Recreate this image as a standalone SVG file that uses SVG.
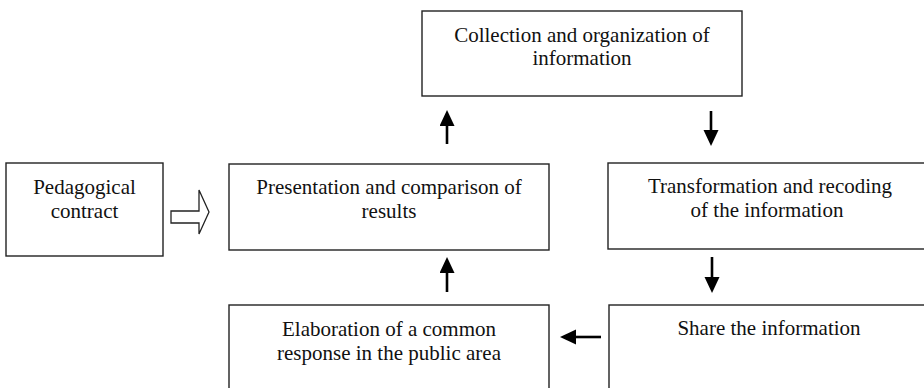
<svg xmlns="http://www.w3.org/2000/svg" width="924" height="388" viewBox="0 0 924 388">
<style>
.box{fill:#fff;stroke:#222;stroke-width:1.4}
.t{font-family:"Liberation Serif","Times New Roman",serif;font-size:21px;fill:#111;text-anchor:middle}
.c{stroke:#000;stroke-width:2.6;fill:none}
</style>
<defs>
<marker id="ah" markerUnits="userSpaceOnUse" markerWidth="17" markerHeight="16" refX="0" refY="7.5" orient="auto" viewBox="0 0 17 16">
<path d="M0,0 L16,7.5 L0,15 z" fill="#000"/>
</marker>
</defs>
<rect width="924" height="388" fill="#fff"/>
<g id="pedagogical">
<rect class="box" x="6" y="163" width="157" height="93"/>
<text class="t" x="84.5" y="194">Pedagogical</text>
<text class="t" x="84.5" y="218">contract</text>
</g>
<g id="collection">
<rect class="box" x="422" y="11" width="320" height="85"/>
<text class="t" x="582" y="42">Collection and organization of</text>
<text class="t" x="582" y="65">information</text>
</g>
<g id="presentation">
<rect class="box" x="229" y="164" width="320" height="86"/>
<text class="t" x="389" y="194">Presentation and comparison of</text>
<text class="t" x="389" y="218">results</text>
</g>
<g id="transformation">
<rect class="box" x="608" y="163" width="326" height="86"/>
<text class="t" x="770" y="193">Transformation and recoding</text>
<text class="t" x="767" y="217">of the information</text>
</g>
<g id="elaboration">
<rect class="box" x="229" y="305" width="320" height="90"/>
<text class="t" x="389" y="336">Elaboration of a common</text>
<text class="t" x="389" y="360">response in the public area</text>
</g>
<g id="share">
<rect class="box" x="609" y="305" width="326" height="90"/>
<text class="t" x="769" y="335">Share the information</text>
</g>
<g id="connectors">
<polygon points="171,211 199,211 199,190 209,212 199,234 199,223 171,223" fill="#fff" stroke="#222" stroke-width="1.3"/>
<line class="c" x1="447" y1="144" x2="447" y2="126" marker-end="url(#ah)"/>
<line class="c" x1="711" y1="111" x2="711" y2="130" marker-end="url(#ah)"/>
<line class="c" x1="447" y1="292" x2="447" y2="273" marker-end="url(#ah)"/>
<line class="c" x1="712" y1="257" x2="712" y2="277" marker-end="url(#ah)"/>
<line class="c" x1="601" y1="337" x2="576" y2="337" marker-end="url(#ah)"/>
</g>
</svg>
